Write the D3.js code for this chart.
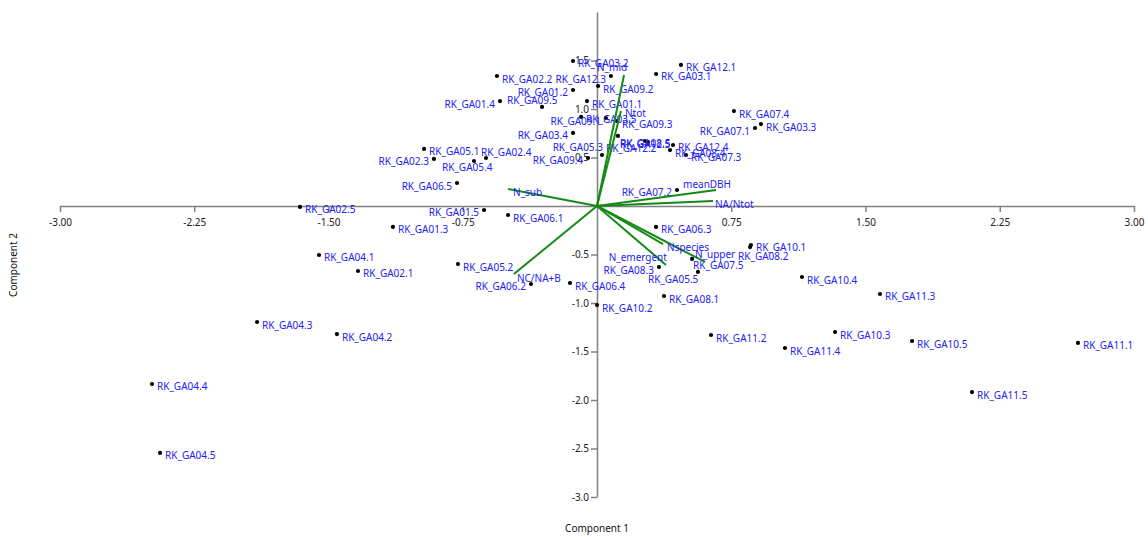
<!DOCTYPE html>
<html>
<head>
<meta charset="utf-8">
<script src="https://cdn.jsdelivr.net/npm/d3@7"></script>
<style>
  body { margin: 0; background: #fff; }
  #chart { width: 1148px; height: 537px; }
  text { font-family: "Noto Sans", "DejaVu Sans", sans-serif; }
  .axis path, .axis line { stroke: #808080; stroke-width: 1.5px; }
  .axis text { font-size: 10px; fill: #222; }
  .lbl { font-size: 10px; fill: #2121f2; }
  .vec { stroke: #168a16; stroke-width: 2px; }
  .ttl { font-size: 10px; fill: #111; }
</style>
</head>
<body>
<div id="chart"></div>
<script>
// sample scores (component 1, component 2)
const sampleNames = [
  "RK_GA03.2", "RK_GA12.3", "RK_GA02.2", "RK_GA12.1", "RK_GA03.1", "RK_GA09.2",
  "RK_GA01.2", "RK_GA01.4", "RK_GA09.5", "RK_GA01.1", "RK_GA09.1", "RK_GA03.5",
  "RK_GA09.3", "RK_GA03.4", "RK_GA08.5", "RK_GA12.5", "RK_GA12.2", "RK_GA12.4",
  "RK_GA08.4", "RK_GA07.3", "RK_GA07.4", "RK_GA07.1", "RK_GA03.3", "RK_GA05.1",
  "RK_GA02.4", "RK_GA05.4", "RK_GA02.3", "RK_GA06.5", "RK_GA05.3", "RK_GA09.4",
  "RK_GA07.2", "RK_GA02.5", "RK_GA01.5", "RK_GA06.1", "RK_GA01.3", "RK_GA04.1",
  "RK_GA02.1", "RK_GA05.2", "RK_GA06.2", "RK_GA06.4", "RK_GA10.2", "RK_GA06.3",
  "RK_GA08.3", "RK_GA05.5", "RK_GA07.5", "RK_GA08.1", "RK_GA10.1", "RK_GA08.2",
  "RK_GA10.4", "RK_GA11.3", "RK_GA11.2", "RK_GA11.4", "RK_GA10.3", "RK_GA10.5",
  "RK_GA11.1", "RK_GA11.5", "RK_GA04.3", "RK_GA04.2", "RK_GA04.4", "RK_GA04.5"
];
const comp1 = [
  -0.134, 0.078, -0.559, 0.469, 0.330, 0.006,
  -0.134, -0.542, -0.307, -0.056, 0.050, -0.089,
  0.112, -0.134, 0.285, 0.268, 0.117, 0.425,
  0.408, 0.497, 0.765, 0.883, 0.916, -0.966,
  -0.620, -0.687, -0.911, -0.782, 0.028, -0.050,
  0.447, -1.659, -0.631, -0.497, -1.140, -1.553,
  -1.335, -0.777, -0.369, -0.151, 0.000, 0.330,
  0.346, 0.564, 0.531, 0.374, 0.860, 0.855,
  1.145, 1.581, 0.637, 1.050, 1.330, 1.760,
  2.687, 2.095, -1.899, -1.453, -2.486, -2.441
];
const comp2 = [
  1.495, 1.340, 1.340, 1.454, 1.361, 1.237,
  1.196, 1.082, 1.021, 1.082, 0.907, 0.918,
  0.876, 0.753, 0.660, 0.670, 0.722, 0.629,
  0.577, 0.526, 0.979, 0.804, 0.845, 0.588,
  0.495, 0.464, 0.485, 0.237, 0.526, 0.495,
  0.165, -0.010, -0.041, -0.093, -0.216, -0.505,
  -0.670, -0.598, -0.804, -0.794, -1.021, -0.216,
  -0.629, -0.680, -0.546, -0.928, -0.402, -0.423,
  -0.732, -0.907, -1.330, -1.464, -1.299, -1.392,
  -1.412, -1.918, -1.196, -1.320, -1.835, -2.546
];

// variable loadings (biplot vectors)
const varNames = ["N_mid", "Ntot", "meanDBH", "NA/Ntot", "N_sub", "Nspecies", "N_upper", "N_emergent", "NC/NA+B"];
const load1 = [0.151, 0.134, 0.665, 0.648, -0.497, 0.369, 0.603, 0.385, -0.464];
const load2 = [1.351, 0.979, 0.165, 0.052, 0.175, -0.392, -0.577, -0.608, -0.701];

const xTicks = [-3, -2.25, -1.5, -0.75, 0.75, 1.5, 2.25, 3];
const yTicks = [-3, -2.5, -2, -1.5, -1, -0.5, 0.5, 1, 1.5];

// label placement: [dx, dy, anchor] relative to the dot, default is right of it
const labelNudge = {
  "RK_GA12.3": [-5, 3, "end"], "RK_GA01.2": [-5, 3, "end"], "RK_GA01.4": [-5, 3, "end"],
  "RK_GA09.5": [-35, -6, "start"], "RK_GA09.1": [-5, 3, "end"], "RK_GA03.4": [-5, 3, "end"],
  "RK_GA08.5": [-28, 2, "start"], "RK_GA12.5": [-25, 3, "start"], "RK_GA12.2": [-12, 13, "start"],
  "RK_GA07.1": [-5, 3, "end"], "RK_GA02.4": [-5, -5, "start"], "RK_GA05.4": [-32, 7, "start"],
  "RK_GA02.3": [-5, 3, "end"], "RK_GA06.5": [-5, 3, "end"], "RK_GA05.3": [1, -7, "end"],
  "RK_GA09.4": [-5, 3, "end"], "RK_GA07.2": [-5, 3, "end"], "RK_GA01.5": [-5, 3, "end"],
  "RK_GA06.2": [-5, 3, "end"], "RK_GA08.3": [-5, 3, "end"], "RK_GA05.5": [-50, 8, "start"],
  "RK_GA07.5": [1, 7, "start"], "RK_GA08.2": [-12, 9, "start"]
};
const vecNudge = {
  "N_mid": [-27, -7, "start"], "Ntot": [4, 2, "start"], "meanDBH": [-33, -5, "start"],
  "NA/Ntot": [2, 4, "start"], "N_sub": [5, 3, "start"], "Nspecies": [4, 3, "start"],
  "N_upper": [-10, -7, "start"], "N_emergent": [1, -7, "end"], "NC/NA+B": [3, 5, "start"]
};

class makeBiplot {

    constructor(opts) {
        this.element = opts.element;
        this.points = sampleNames.map((n, i) => ({ name: n, x: comp1[i], y: comp2[i] }));
        this.vectors = varNames.map((n, i) => ({ name: n, x: load1[i], y: load2[i] }));
        this.update();
    }

    _setDimensions() {
        this.margin = { top: 12, right: 14, bottom: 40, left: 60 };
        this.width = 1148 - this.margin.left - this.margin.right;
        this.height = 537 - this.margin.top - this.margin.bottom;
    }

    _setScales() {
        this.xScale = d3.scaleLinear().domain([-3, 3]).range([0, this.width]);
        this.yScale = d3.scaleLinear().domain([-3, 2]).range([this.height, 0]);

        this.xAxis = d3.axisBottom(this.xScale)
            .tickValues(xTicks)
            .tickSize(6)
            .tickSizeOuter(0)
            .tickPadding(7)
            .tickFormat(d => d.toFixed(2));

        this.yAxis = d3.axisLeft(this.yScale)
            .tickValues(yTicks)
            .tickSize(6)
            .tickSizeOuter(0)
            .tickPadding(2)
            .tickFormat(d => d.toFixed(1));
    }

    update() {
        this._setDimensions();
        this._setScales();
        this.draw();
    }

    draw() {
        this.element.innerHTML = "";
        this.svg = d3.select(this.element).append("svg")
            .attr("width", this.width + this.margin.left + this.margin.right)
            .attr("height", this.height + this.margin.top + this.margin.bottom);

        this.plot = this.svg.append("g")
            .attr("transform", `translate(${this.margin.left},${this.margin.top})`);

        this.plot.append("g")
            .attr("class", "axis axis--x")
            .attr("transform", `translate(0,${this.yScale(0)})`)
            .call(this.xAxis);

        this.plot.append("g")
            .attr("class", "axis axis--y")
            .attr("transform", `translate(${this.xScale(0)},0)`)
            .call(this.yAxis);

        this.plot.selectAll(".axis text").attr("font-family", null);

        this.svg.append("text")
            .attr("class", "ttl")
            .attr("x", this.margin.left + this.xScale(0))
            .attr("y", 532)
            .attr("text-anchor", "middle")
            .text("Component 1");

        this.svg.append("text")
            .attr("class", "ttl")
            .attr("transform", `translate(17,265) rotate(-90)`)
            .attr("text-anchor", "middle")
            .text("Component 2");

        this.drawPoints();
        this.drawVectors();
    }

    drawPoints() {
        this.plot.selectAll(".dot")
            .data(this.points)
            .enter().append("circle")
            .attr("class", "dot")
            .attr("cx", d => this.xScale(d.x))
            .attr("cy", d => this.yScale(d.y))
            .attr("r", 2.1)
            .attr("fill", "#000");

        this.plot.selectAll(".lbl.pt")
            .data(this.points)
            .enter().append("text")
            .attr("class", "lbl pt")
            .each(function(d) {
                d.nudge = labelNudge[d.name] || [5, 3, "start"];
            })
            .attr("x", d => this.xScale(d.x) + d.nudge[0])
            .attr("y", d => this.yScale(d.y) + d.nudge[1])
            .attr("dy", "0.35em")
            .attr("text-anchor", d => d.nudge[2])
            .text(d => d.name);
    }

    drawVectors() {
        let x0 = this.xScale(0), y0 = this.yScale(0);

        this.plot.selectAll(".vec")
            .data(this.vectors)
            .enter().append("line")
            .attr("class", "vec")
            .attr("x1", x0)
            .attr("y1", y0)
            .attr("x2", d => this.xScale(d.x))
            .attr("y2", d => this.yScale(d.y));

        this.plot.selectAll(".lbl.var")
            .data(this.vectors)
            .enter().append("text")
            .attr("class", "lbl var")
            .each(function(d) {
                d.nudge = vecNudge[d.name] || [4, 3, "start"];
            })
            .attr("x", d => this.xScale(d.x) + d.nudge[0])
            .attr("y", d => this.yScale(d.y) + d.nudge[1])
            .attr("dy", "0.35em")
            .attr("text-anchor", d => d.nudge[2])
            .text(d => d.name);
    }
}

new makeBiplot({ element: document.getElementById("chart") });
</script>
</body>
</html>
